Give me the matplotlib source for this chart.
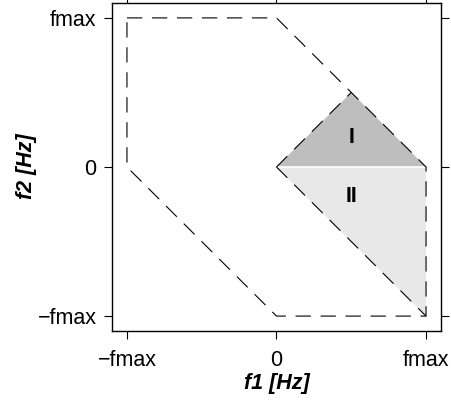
import matplotlib
matplotlib.use("Agg")
import matplotlib.pyplot as plt
from matplotlib.patches import Polygon

plt.rcParams['font.family'] = ['Liberation Sans', 'DejaVu Sans']
plt.rcParams['lines.scale_dashes'] = False

# Data (in units of fmax)
hex_x = [-1, 0, 1, 1, 0, -1, -1]
hex_y = [1, 1, 0, -1, -1, 0, 1]
region1_x = [0, 0.5, 1]
region1_y = [0, 0.5, 0]
region2_x = [0, 1, 1]
region2_y = [0, 0, -1]
diag1_x = [0, 0.5]
diag1_y = [0, 0.5]
diag2_x = [0, 1]
diag2_y = [0, -1]
tick_vals = [-1, 0, 1]
tick_labels = ['\u2212fmax', '0', 'fmax']
region_labels = ['I', 'II']
label_pos_x = [0.5, 0.5]
label_pos_y = [0.2, -0.2]

fig = plt.figure(figsize=(4.52, 4.0), dpi=100)
ax = fig.add_axes([112/452, 1-331/400, (441-112)/452, (331-3)/400])

ax.add_patch(Polygon(list(zip(region1_x, region1_y)), closed=True,
                     facecolor='#BEBEBE', edgecolor='none'))
ax.add_patch(Polygon(list(zip(region2_x, region2_y)), closed=True,
                     facecolor='#E8E8E8', edgecolor='none'))
ax.plot([0, 1], [0, 0], color='white', lw=1.2)

dash = (0, (11, 7))
ax.plot(hex_x, hex_y, color='black', lw=0.8, linestyle=dash)
ax.plot(diag1_x, diag1_y, color='black', lw=0.8, linestyle=dash)
ax.plot(diag2_x, diag2_y, color='black', lw=0.8, linestyle=dash)

for t, x, y in zip(region_labels, label_pos_x, label_pos_y):
    ax.text(x, y, t, ha='center', va='center', fontsize=15.5, fontweight='bold')

ax.set_xlim(-1.1, 1.1)
ax.set_ylim(-1.1, 1.1)
ax.set_xticks(tick_vals)
ax.set_xticklabels(tick_labels)
ax.set_yticks(tick_vals)
ax.set_yticklabels(tick_labels)
ax.tick_params(direction='out', length=6, width=0.8, labelsize=15.5,
               top=True, right=True, labeltop=False, labelright=False)
ax.tick_params(axis='x', pad=8)
ax.tick_params(axis='y', pad=5)
for s in ax.spines.values():
    s.set_linewidth(1.0)

fig.text(277/452, 1-383/400, 'f1 [Hz]', fontsize=15.5, fontweight='bold',
         fontstyle='italic', ha='center', va='center')
fig.text(27/452, 1-166/400, 'f2 [Hz]', fontsize=15.5, fontweight='bold',
         fontstyle='italic', ha='center', va='center', rotation=90)

fig.savefig('out.png', dpi=100)
